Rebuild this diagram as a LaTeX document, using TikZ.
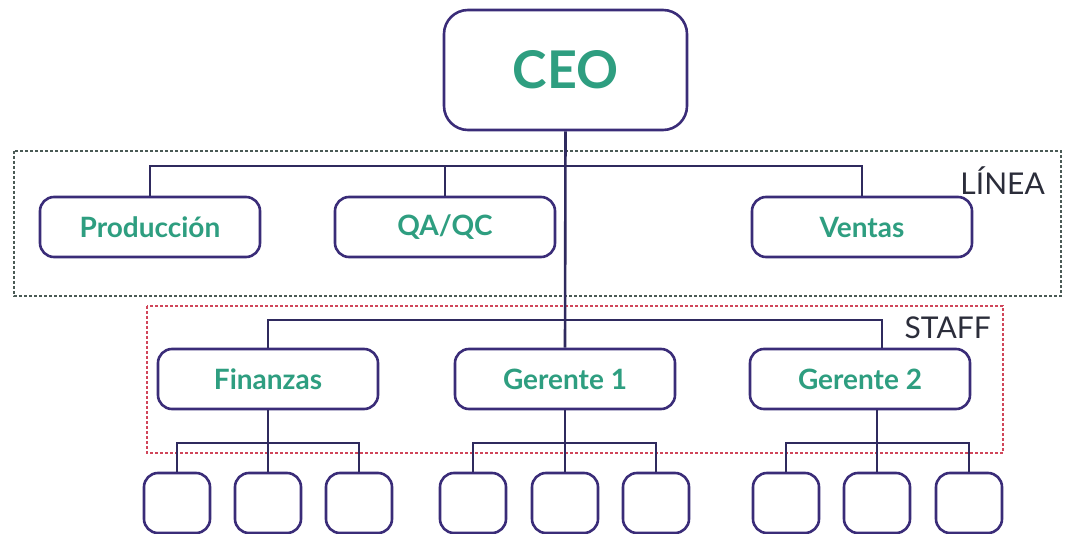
\documentclass[tikz,border=0pt]{standalone}
\usepackage{fontspec}
\setmainfont{Lato}
\begin{document}
\definecolor{boxline}{HTML}{3A2C78}
\definecolor{conn}{HTML}{2F2A5E}
\definecolor{label}{HTML}{2E9E80}
\definecolor{tag}{HTML}{2B2D3A}
\definecolor{lineagroup}{HTML}{4A5A55}
\definecolor{staffgroup}{HTML}{D0465A}
\begin{tikzpicture}[x=1pt,y=-1pt,
  unit/.style={draw=boxline, line width=2.6pt, rounded corners=14pt, fill=white,
    minimum width=220pt, minimum height=60pt, inner sep=0pt,
    font=\fontsize{28}{30}\selectfont\bfseries, text=label},
  leaf/.style={draw=boxline, line width=2.6pt, rounded corners=14pt, fill=white,
    minimum width=66pt, minimum height=60pt, inner sep=0pt},
  link/.style={draw=conn, line width=2.6pt},
  group/.style={line width=2.8pt, dash pattern=on 2.6pt off 2.4pt},
  tagtext/.style={text=tag, font=\fontsize{30}{32}\selectfont, inner sep=0pt}]
\useasboundingbox (0,0) rectangle (1065,534);

% group frames
\draw[group, draw=lineagroup] (14,151) rectangle (1061,296);
\draw[group, draw=staffgroup] (147,306) rectangle (1003,453);
\node[tagtext, anchor=east] (linea) at (1045,181) {LÍNEA};
\node[tagtext, anchor=east] (staff) at (991,328) {STAFF};

% top
\node[unit, minimum width=243pt, minimum height=120pt, rounded corners=24pt,
      font=\fontsize{52}{56}\selectfont\bfseries] (ceo) at (565.5,70) {CEO};

% line units
\node[unit] (prod) at (150,227) {Producción};
\node[unit] (qa) at (445,227) {QA/QC};
\node[unit] (ventas) at (862,227) {Ventas};

% staff units
\node[unit] (fin) at (268,379) {Finanzas};
\node[unit] (g1) at (565,379) {Gerente 1};
\node[unit] (g2) at (860,379) {Gerente 2};

% leaves
\foreach \n/\x in {f1/177,f2/268,f3/359,a1/473,a2/565,a3/656,b1/786,b2/877,b3/969}
  \node[leaf] (\n) at (\x,503) {};

% connectors
\coordinate (lbus) at (565,166);
\coordinate (sbus) at (565,320);
\draw[link] (ceo.south) -- (g1.north);
\draw[link] (prod.north) |- (lbus) -| (ventas.north);
\draw[link] (qa.north) -- (qa.north |- lbus);
\draw[link] (fin.north) |- (sbus) -| ([xshift=22pt]g2.north);

\draw[link] (fin.south) -- (f2.north);
\draw[link] (f1.north) |- (268,443) -| (f3.north);
\draw[link] (g1.south) -- (a2.north);
\draw[link] (a1.north) |- (565,443) -| (a3.north);
\draw[link] ([xshift=17pt]g2.south) -- (b2.north);
\draw[link] (b1.north) |- (877,443) -| (b3.north);
\end{tikzpicture}
\end{document}
